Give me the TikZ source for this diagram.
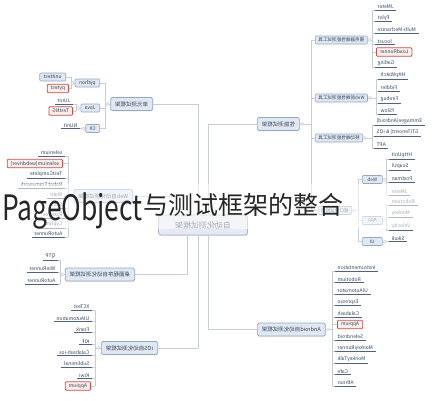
\documentclass[tikz,border=0pt]{standalone}
\usepackage{fontspec}
\setmainfont{Noto Sans CJK SC}
\usepackage{graphicx}
\usetikzlibrary{calc,shadows}
\definecolor{boxfill}{HTML}{E1E8F2}
\definecolor{boxdraw}{HTML}{93A8C5}
\definecolor{hubfill}{HTML}{E6EBF3}
\definecolor{hubdraw}{HTML}{A7B6CB}
\definecolor{redfill}{HTML}{FDEDEB}
\definecolor{reddraw}{HTML}{C4514C}
\definecolor{brcol}{HTML}{C9CED6}
\definecolor{ulcol}{HTML}{50637D}
\definecolor{txt}{HTML}{34465C}
\definecolor{titlecol}{HTML}{262626}
\newcommand\mr[1]{\reflectbox{#1}}
\newcommand\leafR[5]{%
  \node[leaf, anchor=south west] (#1) at (#2,#3) {\mr{#4}};
  \draw[ul] (#1.south west) -- (#1.south east);
  \draw[br] (#5 |- #1.south west) -- (#1.south west);
}
\newcommand\leafL[5]{%
  \node[leaf, anchor=south east] (#1) at (#2,#3) {\mr{#4}};
  \draw[ul] (#1.south west) -- (#1.south east);
  \draw[br] (#1.south east) -- (#5 |- #1.south east);
}
\tikzset{
 br/.style={draw=brcol, line width=0.7pt},
 ul/.style={draw=ulcol, line width=0.7pt},
 hub/.style={draw=hubdraw, fill=hubfill, rounded corners=2.5pt, minimum width=89pt, minimum height=20pt, font=\fontsize{8}{9}\selectfont, text=txt, line width=0.8pt, drop shadow={opacity=0.2, shadow xshift=0.5pt, shadow yshift=-1pt}},
 mainbox/.style={draw=boxdraw, fill=boxfill, rounded corners=1.5pt, inner xsep=4.5pt, inner ysep=0pt, minimum height=13pt, font=\fontsize{5.5}{6}\selectfont, text=txt, line width=0.7pt, drop shadow={opacity=0.15, shadow xshift=0.4pt, shadow yshift=-0.8pt}},
 subbox/.style={draw=boxdraw, fill=boxfill, rounded corners=1pt, inner xsep=3pt, inner ysep=0pt, minimum height=8pt, font=\fontsize{4.6}{5}\selectfont, text=txt, line width=0.6pt},
 hlbox/.style={draw=reddraw, fill=redfill, rounded corners=1pt, inner xsep=3.5pt, inner ysep=0pt, minimum height=8.5pt, font=\fontsize{5}{5.5}\selectfont, text=txt, line width=0.8pt},
 leaf/.style={inner xsep=2.5pt, inner ysep=1pt, font=\fontsize{5}{5.5}\selectfont, text=txt},
 tog/.style={draw=brcol, fill=white, line width=0.5pt, circle, inner sep=0pt, minimum size=3pt},
}
\begin{document}
\begin{tikzpicture}[x=1pt,y=-1pt]
\useasboundingbox (0,0) rectangle (432,400);
\fill[white] (0,0) rectangle (432,400);

% ---------- hub and trunks ----------
\node[hub] (hub) at (203,225) {\mr{自动化测试框架}};
\coordinate (lt) at (198,0);
\coordinate (lt2) at (187,0);
\coordinate (rt) at (208,0);

\node[mainbox, anchor=east] (unit) at (153,104) {\mr{单元测试框架}};
\node[mainbox, anchor=east] (web) at (133,196) {\mr{Web自动化测试框架}};
\node[mainbox, anchor=east] (desk) at (135,274.5) {\mr{桌面程序自动化测试框架}};
\node[mainbox, anchor=east] (ios) at (158,348) {\mr{iOS自动化测试框架}};
\node[mainbox, anchor=west] (perf) at (257,124) {\mr{性能测试框架}};
\node[mainbox, anchor=west] (andr) at (257,329.5) {\mr{Android自动化测试框架}};

\draw[br] (unit.east) -- (unit.east -| lt) -- (lt |- hub.north);
\draw[br] (ios.east) -- (ios.east -| lt) -- (lt |- hub.south);
\draw[br] (web.east) -- (web.east -| lt2) -- (lt2 |- hub.north);
\draw[br] (desk.east) -- (desk.east -| lt2) -- (lt2 |- hub.south);
\draw[br] (perf.west) -- (perf.west -| rt) -- (rt |- hub.north);
\draw[br] (andr.west) -- (andr.west -| rt) -- (rt |- hub.south);

% ---------- unit tests ----------
\node[subbox, anchor=east, font=\fontsize{5}{5.5}\selectfont, inner xsep=4pt] (py) at (100,83) {\mr{python}};
\node[subbox, anchor=east, font=\fontsize{5}{5.5}\selectfont, inner xsep=4pt] (jv) at (100,108) {\mr{Java}};
\node[subbox, anchor=east, font=\fontsize{5}{5.5}\selectfont, inner xsep=4pt] (cs) at (100,128.5) {\mr{C\#}};
\coordinate (ub) at (105,0);
\draw[br] (unit.west) -- (unit.west -| ub);
\draw[br] (ub |- py.east) -- (ub |- cs.east);
\foreach \n in {py,jv,cs} \draw[br] (ub |- \n.east) -- (\n.east);

\node[subbox, anchor=east, font=\fontsize{5}{5.5}\selectfont, inner xsep=4pt] (ut) at (66,77) {\mr{unittest}};
\node[hlbox, anchor=east] (pt) at (69,88.5) {\mr{pytest}};
\coordinate (pyb) at (71,0);
\draw[br] (py.west) -- (py.west -| pyb);
\draw[br] (pyb |- ut.east) -- (pyb |- pt.east);
\draw[br] (ut.east) -- (ut.east -| pyb);
\draw[br] (pt.east) -- (pt.east -| pyb);

\coordinate (jb) at (76,0);
\leafL{ju}{73}{104}{JUnit}{jb}
\node[hlbox, anchor=east] (tng) at (73,111) {\mr{TestNG}};
\draw[br] (jv.west) -- (jv.west -| jb);
\draw[br] (jb |- ju.south) -- (jb |- tng.east);
\draw[br] (tng.east) -- (tng.east -| jb);

\coordinate (cb) at (81,0);
\leafL{nu}{80}{128.5}{NUnit}{cb}
\draw[br] (cs.west) -- (cs.west -| cb);

% ---------- web automation ----------
\coordinate (wbb) at (68,0);
\draw[br] (web.west) -- (web.west -| wbb);
\leafL{w1}{65}{156}{selenium}{wbb}
\node[hlbox, anchor=east] (w2) at (63,163.5) {\mr{selenium(webdriver)}};
\draw[br] (w2.east) -- (w2.east -| wbb);
\leafL{w3}{65}{178}{TestComplete}{wbb}
\leafL{w4}{65}{188}{Robot Framework}{wbb}
\leafL{w5}{65}{198}{Watir}{wbb}
\leafL{w6}{65}{208}{Sahi}{wbb}
\leafL{w7}{65}{218}{Ranorex}{wbb}
\leafL{w8}{65}{228}{Cypress}{wbb}
\leafL{w9}{65}{237}{AutoRunner}{wbb}
\draw[br] (wbb |- w1.south) -- (wbb |- w9.south);

% ---------- desktop ----------
\coordinate (db) at (60,0);
\draw[br] (desk.west) -- (desk.west -| db);
\leafL{d1}{58}{260}{QTP}{db}
\leafL{d2}{58}{272}{WinRunner}{db}
\leafL{d3}{58}{284}{AutoRunner}{db}
\draw[br] (db |- d1.south) -- (db |- d3.south);

% ---------- iOS ----------
\coordinate (ib) at (95,0);
\draw[br] (ios.west) -- (ios.west -| ib);
\leafL{i1}{92}{310}{XCTest}{ib}
\leafL{i2}{92}{321.4}{UIAutomation}{ib}
\leafL{i3}{92}{332.8}{Frank}{ib}
\leafL{i4}{92}{344.2}{KIF}{ib}
\leafL{i5}{92}{355.6}{Calabash-ios}{ib}
\leafL{i6}{92}{367}{Subliminal}{ib}
\leafL{i7}{92}{378.4}{Kiwi}{ib}
\node[hlbox, anchor=east] (i8) at (91,386) {\mr{Appium}};
\draw[br] (i8.east) -- (i8.east -| ib);
\draw[br] (ib |- i1.south) -- (ib |- i8.east);

% ---------- performance ----------
\node[subbox, anchor=west] (srv) at (315,40) {\mr{服务器端性能测试工具}};
\node[subbox, anchor=west] (wfe) at (315,98) {\mr{Web前端性能测试工具}};
\node[subbox, anchor=west] (mob) at (315,138) {\mr{移动端性能测试工具}};
\node[subbox, anchor=east] (api) at (352,210.5) {\mr{接口测试框架}};
\coordinate (pb) at (311,0);
\draw[br] (perf.east) -- (perf.east -| pb);
\draw[br] (pb |- srv.west) -- (pb |- api.west);
\foreach \n in {srv,wfe,mob,api} \draw[br] (pb |- \n.west) -- (\n.west);

\coordinate (sb) at (372,0);
\draw[br] (srv.east) -- (srv.east -| sb);
\leafR{s1}{375}{10}{JMeter}{sb}
\leafR{s2}{375}{21.5}{Pylot}{sb}
\leafR{s3}{375}{33}{Multi-Mechanize}{sb}
\leafR{s4}{375}{44.5}{locust}{sb}
\node[hlbox, anchor=west] (s5) at (376,52) {\mr{LoadRunner}};
\draw[br] (sb |- s5.west) -- (s5.west);
\leafR{s6}{375}{67}{Gatling}{sb}
\draw[br] (sb |- s1.south) -- (sb |- s6.south);

\coordinate (fb) at (376,0);
\draw[br] (wfe.east) -- (wfe.east -| fb);
\leafR{f1}{378}{79}{HttpWatch}{fb}
\leafR{f2}{378}{91}{Fiddler}{fb}
\leafR{f3}{378}{103}{Firebug}{fb}
\leafR{f4}{378}{114}{YSlow}{fb}
\draw[br] (fb |- f1.south) -- (fb |- f4.south);

\coordinate (mb) at (372,0);
\draw[br] (mob.east) -- (mob.east -| mb);
\leafR{m1}{374}{125}{Emmagee(Android)}{mb}
\leafR{m2}{374}{136}{GT(Tencent) \& iOS}{mb}
\leafR{m3}{374}{148}{APT}{mb}
\draw[br] (mb |- m1.south) -- (mb |- m3.south);

% ---------- interface ----------
\node[subbox, anchor=west, minimum width=20pt] (apiw) at (362,179.5) {\mr{Web}};
\node[subbox, anchor=west, minimum width=20pt] (apia) at (362,220.5) {\mr{App}};
\node[subbox, anchor=west, minimum width=20pt] (apiu) at (362,241.5) {\mr{UI}};
\coordinate (ab) at (358,0);
\draw[br] (api.east) -- (api.east -| ab);
\draw[br] (ab |- apiw.west) -- (ab |- apiu.west);
\foreach \n in {apiw,apia,apiu} \draw[br] (ab |- \n.west) -- (\n.west);

\coordinate (awb) at (386,0);
\draw[br] (apiw.east) -- (apiw.east -| awb);
\leafR{h1}{389}{159}{HttpUnit}{awb}
\leafR{h2}{389}{170}{SoapUI}{awb}
\leafR{h3}{389}{182}{Postman}{awb}
\leafR{h4}{389}{195}{JMeter}{awb}
\draw[br] (awb |- h1.south) -- (awb |- h4.south);

\coordinate (aab) at (386,0);
\draw[br] (apia.east) -- (apia.east -| aab);
\leafR{a1}{389}{205}{Robotium}{aab}
\leafR{a2}{389}{217}{Monkey}{aab}
\leafR{a3}{389}{230}{Velocity}{aab}
\draw[br] (aab |- a1.south) -- (aab |- a3.south);

\coordinate (aub) at (386,0);
\leafR{u1}{389}{241.5}{Sikuli}{aub}
\draw[br] (apiu.east) -- (apiu.east -| aub);

% ---------- android ----------
\coordinate (nb) at (332,0);
\draw[br] (andr.east) -- (andr.east -| nb);
\leafR{n1}{335}{271}{Instrumentation}{nb}
\leafR{n2}{335}{282.5}{Robotium}{nb}
\leafR{n3}{335}{294}{UIAutomator}{nb}
\leafR{n4}{335}{305.5}{Espresso}{nb}
\leafR{n5}{335}{317}{Calabash}{nb}
\node[hlbox, anchor=west] (n6) at (337,324.5) {\mr{Appium}};
\draw[br] (nb |- n6.west) -- (n6.west);
\leafR{n7}{335}{340}{Selendroid}{nb}
\leafR{n8}{335}{351.5}{MonkeyRunner}{nb}
\leafR{n9}{335}{363}{MonkeyTalk}{nb}
\leafR{n10}{335}{374.5}{Cafe}{nb}
\leafR{n11}{335}{386}{Athrun}{nb}
\draw[br] (nb |- n1.south) -- (nb |- n11.south);

% ---------- toggles ----------
\node[tog] (t1) at ($(unit.west)+(-2.5,0)$) {};
\node[tog] (t2) at ($(py.west)+(-2,0)$) {};
\node[tog] (t3) at ($(jv.west)+(-2,0)$) {};
\node[tog] (t4) at ($(cs.west)+(-2,0)$) {};
\node[tog] (t5) at ($(web.west)+(-2.5,0)$) {};
\node[tog] (t6) at ($(desk.west)+(-2.5,0)$) {};
\node[tog] (t7) at ($(ios.west)+(-2.5,0)$) {};
\node[tog] (t8) at ($(perf.east)+(2.5,0)$) {};
\node[tog] (t9) at ($(srv.east)+(2,0)$) {};
\node[tog] (t10) at ($(wfe.east)+(2,0)$) {};
\node[tog] (t11) at ($(mob.east)+(2,0)$) {};
\node[tog] (t12) at ($(api.east)+(2,0)$) {};
\node[tog] (t13) at ($(apiw.east)+(2,0)$) {};
\node[tog] (t14) at ($(apia.east)+(2,0)$) {};
\node[tog] (t15) at ($(apiu.east)+(2,0)$) {};
\node[tog] (t16) at ($(andr.east)+(2.5,0)$) {};

% ---------- faded band and title ----------
\fill[white, opacity=0.55] (0,184) rectangle (432,229);
\node[anchor=base west, inner sep=0pt, text=titlecol] (ttl) at (2,220)
  {\scalebox{0.755}[1]{\fontsize{35}{35}\selectfont PageObject}};
\node[anchor=base west, inner sep=0pt, text=titlecol] (ttc) at (ttl.base east)
  {\raisebox{6pt}{\fontsize{25}{26}\selectfont 与测试框架的整合}};
\end{tikzpicture}
\end{document}
